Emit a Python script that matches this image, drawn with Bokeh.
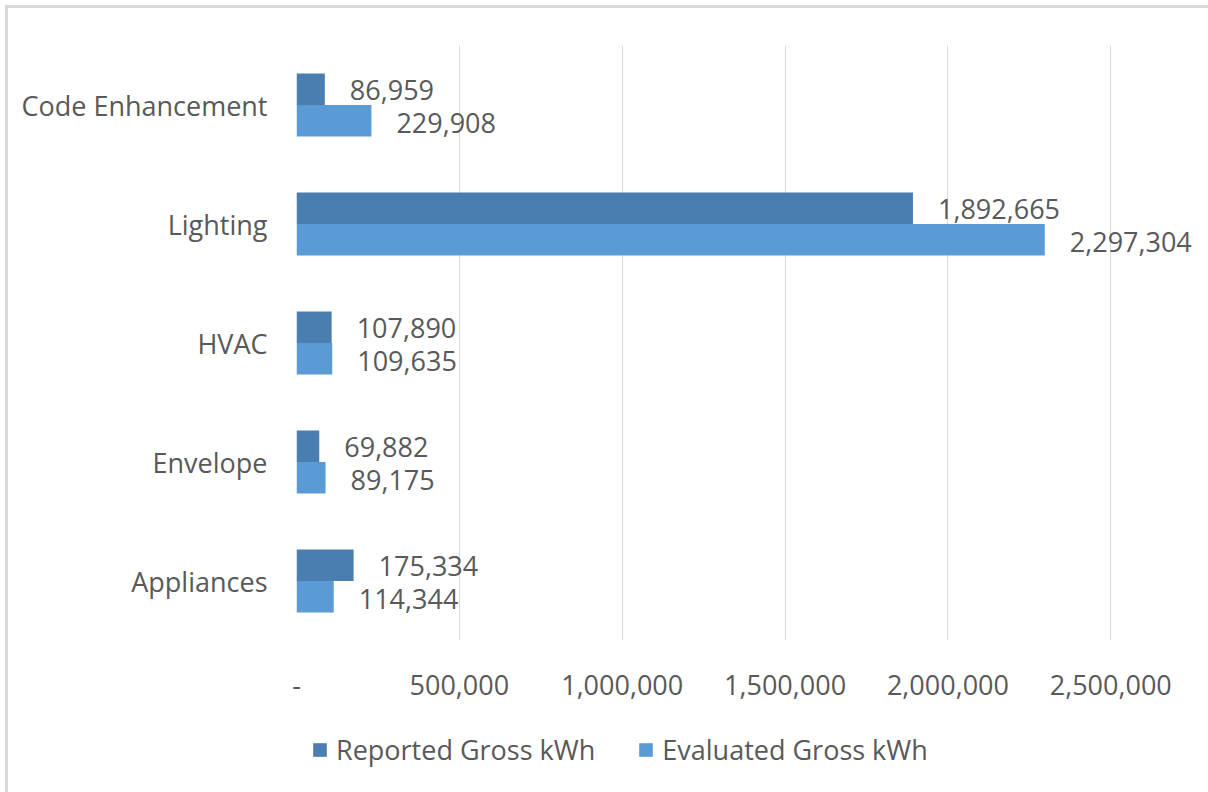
from bokeh.plotting import figure
from bokeh.layouts import column
from bokeh.models import ColumnDataSource, FactorRange, Range1d, FixedTicker, Legend, LegendItem
from bokeh.transform import dodge
from bokeh.core.properties import value
from bokeh.embed import file_html
from bokeh.resources import INLINE

categories = ["Code Enhancement", "Lighting", "HVAC", "Envelope", "Appliances"]
reported = [86959, 1892665, 107890, 69882, 175334]
evaluated = [229908, 2297304, 109635, 89175, 114344]
series_names = ["Reported Gross kWh", "Evaluated Gross kWh"]
x_ticks = [0, 500000, 1000000, 1500000, 2000000, 2500000]
x_tick_labels = ["-", "500,000", "1,000,000", "1,500,000", "2,000,000", "2,500,000"]

DARK = "#4a7eb0"
LIGHT = "#5b9bd5"
TXT = "#595959"
FONT = "Open Sans"
FS = "27px"

src = ColumnDataSource(dict(
    cat=categories,
    rep=reported,
    ev=evaluated,
    rep_lbl=[f"{v:,}" for v in reported],
    ev_lbl=[f"{v:,}" for v in evaluated],
))

p = figure(width=1200, height=700, output_backend="svg", toolbar_location=None,
           y_range=FactorRange(factors=categories[::-1], range_padding=0),
           x_range=Range1d(0, 2800000),
           min_border_left=288, min_border_right=0, min_border_top=37, min_border_bottom=68)
p.outline_line_color = None
p.background_fill_color = "white"
p.border_fill_color = "white"

bh = 0.265
r1 = p.hbar(y=dodge("cat", 0.1325, range=p.y_range), right="rep", left=0, height=bh,
            color=DARK, line_color=None, source=src)
r2 = p.hbar(y=dodge("cat", -0.1325, range=p.y_range), right="ev", left=0, height=bh,
            color=LIGHT, line_color=None, source=src)

p.text(x="rep", y=dodge("cat", 0.1325, range=p.y_range), text="rep_lbl", source=src,
       x_offset=25, y_offset=1, text_align="left", text_baseline="middle",
       text_font=value(FONT), text_font_size=FS, text_color=TXT)
p.text(x="ev", y=dodge("cat", -0.1325, range=p.y_range), text="ev_lbl", source=src,
       x_offset=25, y_offset=2, text_align="left", text_baseline="middle",
       text_font=value(FONT), text_font_size=FS, text_color=TXT)

p.xaxis.ticker = FixedTicker(ticks=x_ticks)
p.xaxis.major_label_overrides = {t: l for t, l in zip(x_ticks, x_tick_labels)}
p.xaxis.axis_line_color = None
p.xaxis.major_tick_line_color = None
p.xaxis.minor_tick_line_color = None
p.xaxis.major_label_standoff = 28
p.xaxis.major_label_text_font = FONT
p.xaxis.major_label_text_font_size = FS
p.xaxis.major_label_text_color = TXT

p.yaxis.axis_line_color = None
p.yaxis.major_tick_line_color = None
p.yaxis.minor_tick_line_color = None
p.yaxis.major_label_standoff = 23
p.yaxis.major_label_text_font = FONT
p.yaxis.major_label_text_font_size = FS
p.yaxis.major_label_text_color = TXT

p.xgrid.grid_line_color = "#d9d9d9"
p.xgrid.grid_line_width = 1
p.ygrid.grid_line_color = None

# legend strip below the chart (its frame is aligned with the chart's frame)
q = figure(width=1200, height=84, output_backend="svg", toolbar_location=None,
           min_border=0, x_range=Range1d(0, 1), y_range=Range1d(0, 1))
q.axis.visible = False
q.grid.visible = False
q.outline_line_color = None
q.background_fill_color = "white"
q.border_fill_color = "white"
# swatch renderers kept outside the visible range; they only feed the legend
l1 = q.hbar(y=[0.5], left=[10], right=[11], height=0.1, color=DARK, line_color=None)
l2 = q.hbar(y=[0.5], left=[10], right=[11], height=0.1, color=LIGHT, line_color=None)

legend = Legend(items=[LegendItem(label=series_names[0], renderers=[l1]),
                       LegendItem(label=series_names[1], renderers=[l2])],
                orientation="horizontal", location=(15, 24),
                glyph_width=17, glyph_height=17, label_standoff=8, spacing=42,
                label_text_font=FONT, label_text_font_size=FS, label_text_color=TXT,
                border_line_color=None, background_fill_alpha=0, margin=0, padding=0)
q.add_layout(legend, "center")

layout = column(p, q, spacing=0)
layout.styles = {"border-top": "3px solid #d9d9d9", "border-left": "3px solid #d9d9d9",
                 "margin-top": "5px", "margin-left": "5px", "background-color": "white"}

open("out.html", "w").write(file_html(layout, INLINE))
